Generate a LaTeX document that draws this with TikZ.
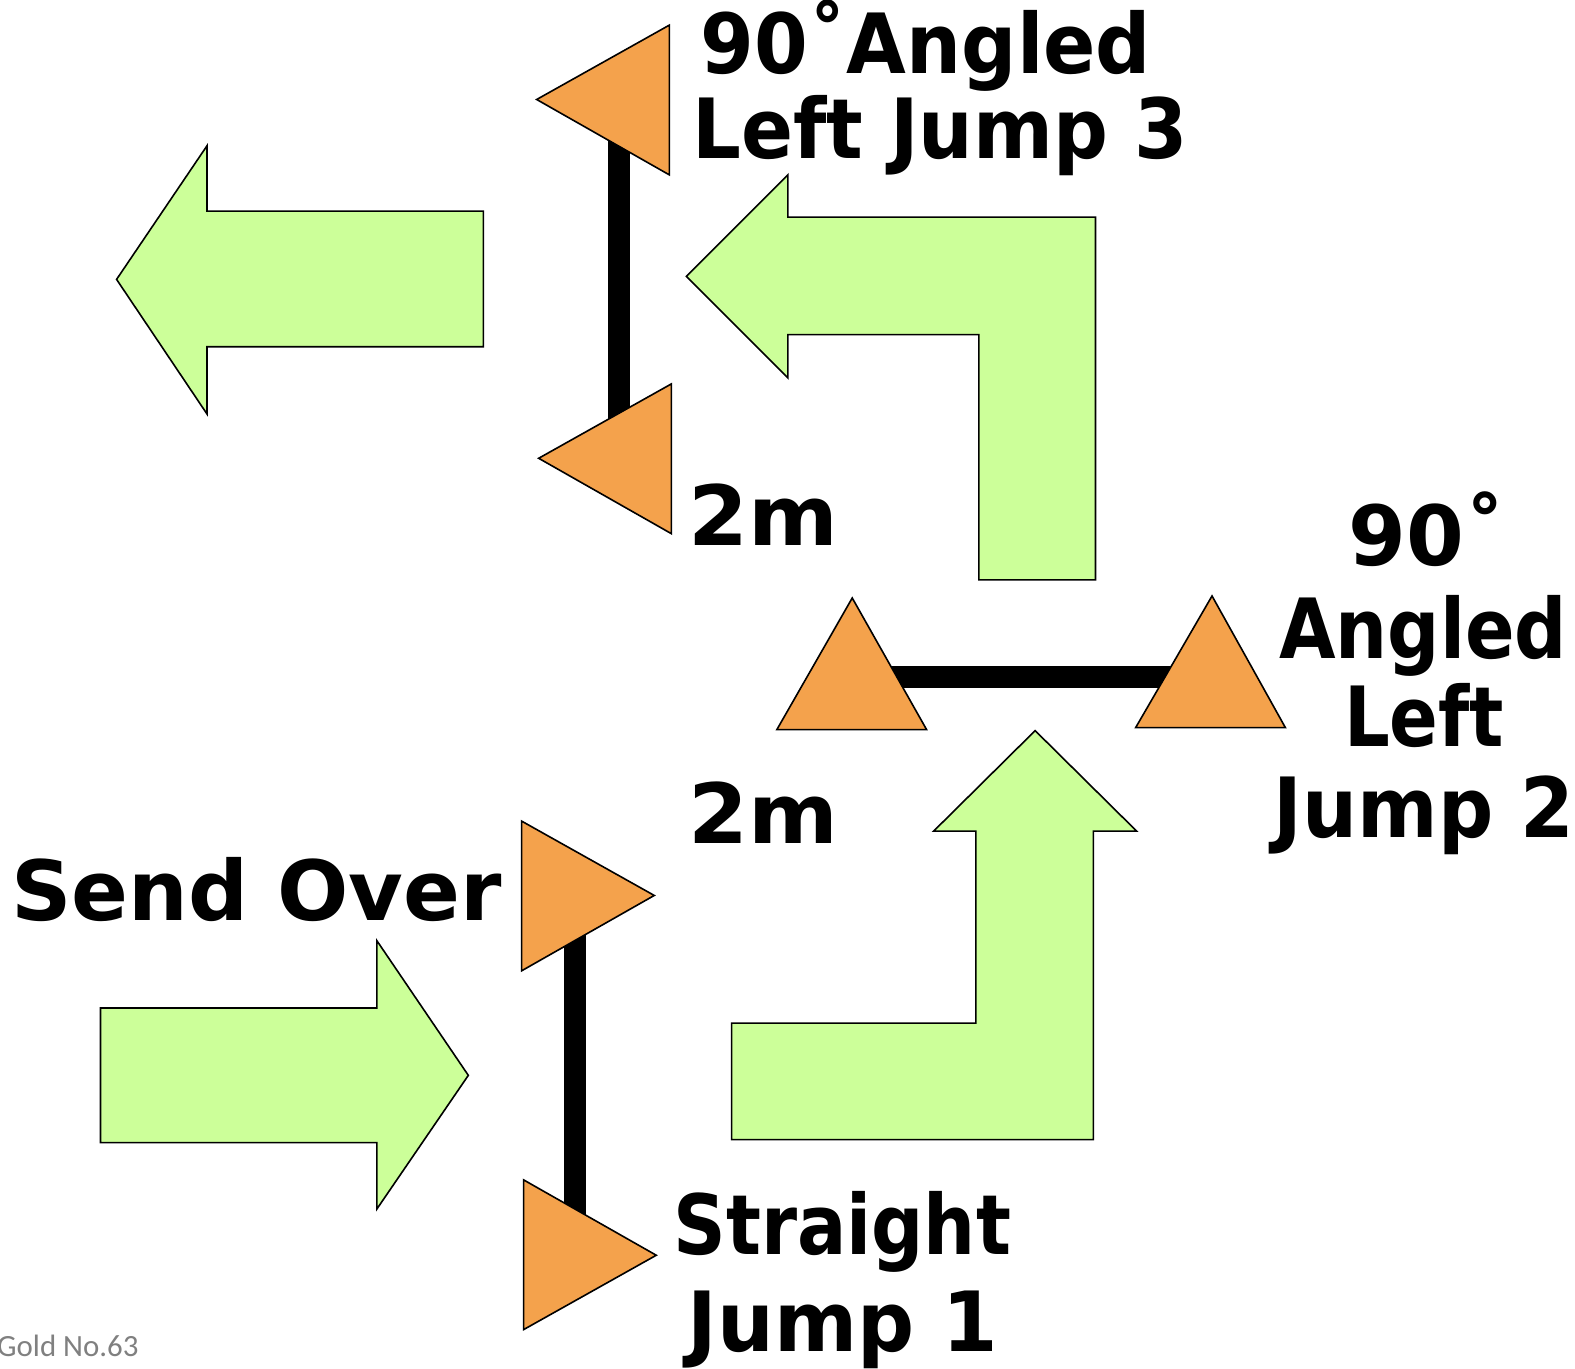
\documentclass[tikz,border=0pt]{standalone}
\usepackage{fontspec}
\setmainfont{DejaVu Sans}
\newfontfamily\noteFont{Carlito}
\definecolor{cone}{HTML}{F4A24C}
\definecolor{arrowgreen}{HTML}{CCFF99}
\definecolor{notegray}{HTML}{808080}
\tikzset{
  conetri/.style={fill=cone,draw=black,line width=1.6bp,line join=miter},
  bigarrow/.style={fill=arrowgreen,draw=black,line width=1.6bp,line join=miter},
  polebar/.style={draw=black,line width=22bp},
  lbl/.style={inner sep=0pt,anchor=base west,transform shape,font=\fontsize{83.4}{90}\selectfont\bfseries},
  clbl/.style={inner sep=0pt,anchor=base,transform shape,font=\fontsize{83.4}{90}\selectfont\bfseries}
}
\begin{document}
\begin{tikzpicture}[x=1.005bp,y=-1.005bp]
\useasboundingbox (0bp,0bp) rectangle (1575bp,-1369bp);
% bars
\coordinate (j3a) at (616,140);
\coordinate (j3b) at (616,418);
\coordinate (j2a) at (880,674);
\coordinate (j2b) at (1170,674);
\coordinate (j1a) at (572,930);
\coordinate (j1b) at (572,1210);
\draw[polebar] (j3a) -- (j3b);
\draw[polebar] (j2a) -- (j2b);
\draw[polebar] (j1a) -- (j1b);
% cones
\draw[conetri] (534,99) -- (666,25) -- (666,174) -- cycle;
\draw[conetri] (536,456) -- (668,382) -- (668,531) -- cycle;
\draw[conetri] (848,595) -- (922,726) -- (773,726) -- cycle;
\draw[conetri] (1206,593) -- (1279,724) -- (1130,724) -- cycle;
\draw[conetri] (519,817) -- (651,891) -- (519,966) -- cycle;
\draw[conetri] (521,1174) -- (653,1249) -- (521,1323) -- cycle;
% arrows
\draw[bigarrow] (116,278) -- (206,145) -- (206,210) -- (481,210) -- (481,345) -- (206,345) -- (206,412) -- cycle;
\draw[bigarrow] (683,275) -- (784,174) -- (784,216) -- (1090,216) -- (1090,577) -- (974,577) -- (974,333) -- (784,333) -- (784,376) -- cycle;
\draw[bigarrow] (100,1003) -- (375,1003) -- (375,936) -- (466,1070) -- (375,1203) -- (375,1137) -- (100,1137) -- cycle;
\draw[bigarrow] (1030,727) -- (1131,827) -- (1088,827) -- (1088,1134) -- (728,1134) -- (728,1018) -- (971,1018) -- (971,827) -- (929,827) -- cycle;
% labels
\node[lbl,xscale=0.93] (t3a) at (697,73) {90˚Angled};
\node[lbl,xscale=0.923] (t3b) at (689,158) {Left Jump 3};
\node[lbl,xscale=1.037] (d1) at (685,543) {2m};
\node[clbl] (t2a) at (1420,563) {90˚};
\node[clbl,xscale=0.88] (t2b) at (1416,655) {Angled};
\node[clbl,xscale=0.865] (t2c) at (1417,743) {Left};
\node[clbl,xscale=0.93] (t2d) at (1417,833) {Jump 2};
\node[lbl,xscale=1.037] (d2) at (685,839) {2m};
\node[lbl,xscale=1.01] (so) at (11,916) {Send Over};
\node[lbl,xscale=0.88] (t1a) at (670,1248) {Straight};
\node[lbl,xscale=0.96] (t1b) at (684,1345) {Jump 1};
\node[inner sep=0pt,anchor=base west,text=notegray,font=\noteFont\fontsize{31}{36}\selectfont] (gold) at (-3,1350) {Gold No.63};
\end{tikzpicture}
\end{document}
